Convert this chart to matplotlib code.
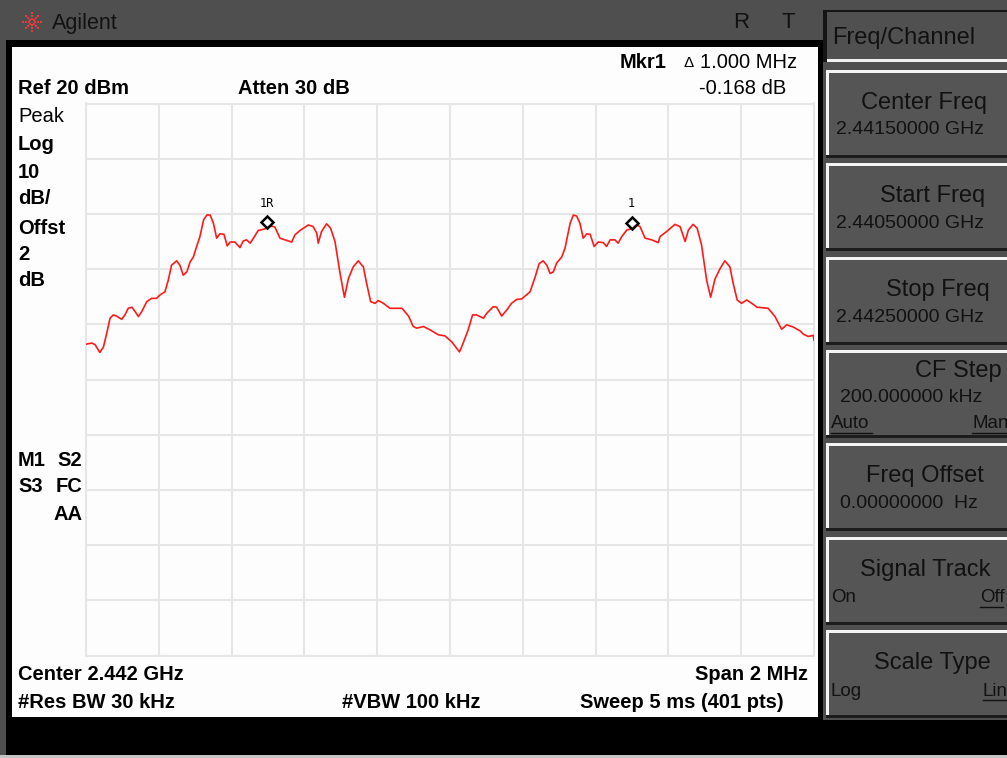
#!/usr/bin/env python3
# -*- coding: utf-8 -*-
"""
plot.py: spectrum analyser screen (Agilent), two 1 MHz spaced humps with delta marker.
"""

import numpy as np
import matplotlib
matplotlib.use('Agg')
import matplotlib.pyplot as plt
from matplotlib.patches import Rectangle
from matplotlib.transforms import ScaledTranslation

plt.rcParams['font.family'] = ['Liberation Sans', 'DejaVu Sans']

" trace read off the screen: offset from start freq (kHz) and level (dBm) "
offset_khz = [0, 16, 25, 38, 48, 57, 66, 75, 84, 98, 107, 116, 126, 135, 144, 153,
              167, 180, 194, 203, 217, 226, 235, 249, 258, 267, 277, 286, 295, 304,
              313, 323, 332, 341, 350, 359, 368, 379, 388, 396, 409, 423, 432, 441,
              451, 460, 473, 487, 496, 510, 519, 533, 547, 565, 574, 588, 597, 611,
              624, 634, 638, 647, 661, 672, 684, 698, 710, 721, 734, 748, 762, 771,
              782, 794, 803, 817, 835, 868, 886, 899, 909, 927, 945, 968, 986, 1005,
              1026, 1032, 1050, 1062, 1073, 1092, 1101, 1119, 1128, 1142, 1156, 1169,
              1183, 1197, 1206, 1220, 1234, 1245, 1256, 1266, 1275, 1284, 1293, 1307,
              1316, 1330, 1339, 1348, 1357, 1366, 1376, 1385, 1396, 1407, 1421, 1430,
              1440, 1453, 1462, 1472, 1486, 1499, 1513, 1522, 1536, 1554, 1572, 1577,
              1595, 1609, 1618, 1632, 1646, 1655, 1668, 1679, 1691, 1705, 1716, 1728,
              1742, 1755, 1769, 1778, 1789, 1801, 1815, 1829, 1843, 1874, 1893, 1911,
              1925, 1943, 1962, 1971, 1984, 1998, 2000]
level_dbm = [-23.6, -23.4, -23.7, -25.1, -24.1, -21.6, -18.9, -18.3, -18.5, -19.1,
             -18.3, -17.1, -16.9, -17.7, -18.6, -17.7, -15.9, -15.3, -15.3, -14.7,
             -14.1, -12.0, -9.3, -8.5, -9.3, -11.1, -10.5, -8.7, -7.8, -5.9, -4.1,
             -1.1, -0.2, -0.2, -1.7, -4.4, -3.6, -3.7, -5.8, -5.1, -5.1, -6.1, -4.9,
             -4.7, -5.3, -4.4, -3.0, -2.8, -2.6, -2.2, -2.4, -4.4, -4.7, -5.1, -3.8,
             -3.0, -2.6, -2.0, -2.3, -3.5, -5.3, -3.2, -1.8, -2.6, -5.0, -10.8,
             -15.1, -11.7, -9.6, -8.5, -9.6, -12.6, -15.9, -16.2, -15.7, -16.2,
             -17.1, -17.1, -18.5, -20.4, -20.7, -20.4, -21.0, -21.9, -22.1, -23.2,
             -25.0, -24.1, -21.0, -18.3, -18.3, -18.9, -18.0, -16.8, -16.9, -18.5,
             -17.4, -16.2, -15.5, -15.4, -14.9, -14.1, -11.4, -9.0, -8.5, -9.3,
             -10.8, -10.5, -8.9, -7.8, -6.2, -1.7, -0.2, -0.4, -1.7, -4.4, -3.6,
             -3.7, -5.9, -5.1, -5.2, -5.9, -4.7, -4.7, -5.3, -4.1, -2.9, -2.7, -2.0,
             -2.3, -4.4, -4.7, -5.2, -4.1, -3.2, -2.4, -1.9, -2.3, -5.0, -2.9, -1.9,
             -2.6, -5.6, -12.0, -15.1, -11.8, -9.9, -8.5, -9.6, -12.6, -15.6, -16.2,
             -15.6, -16.2, -16.9, -17.1, -18.6, -20.9, -20.1, -20.5, -21.2, -21.8,
             -22.2, -22.0, -22.9]

start_ghz = 2.4410
stop_ghz = 2.4430
ref_level = 20
db_per_div = 10

marker_khz = [496, 1499]
marker_dbm = [-2.6, -2.7]
marker_tags = ['1R', '1']

left_labels = ['Peak', 'Log', '10', 'dB/', 'Offst', '2', 'dB']
left_label_y = [116, 144, 172, 199, 229, 254, 280]

softkey_title = 'Freq/Channel'
softkey_names = ['Center Freq', 'Start Freq', 'Stop Freq', 'CF Step',
                 'Freq Offset', 'Signal Track', 'Scale Type']
softkey_values = ['2.44150000 GHz', '2.44050000 GHz', '2.44250000 GHz',
                  '200.000000 kHz', '0.00000000  Hz', '', '']
softkey_opts = [None, None, None, ('Auto', 'Man'), None, ('On', 'Off'), ('Log', 'Lin')]

W, H = 1007, 758
fig = plt.figure(figsize=(W / 100, H / 100), dpi=100, facecolor='#4f4f4f')

" background layer in screen pixels "
bg = fig.add_axes([0, 0, 1, 1])
bg.set_xlim(0, W)
bg.set_ylim(H, 0)
bg.axis('off')


def box(x0, y0, x1, y1, color, z=1):
    bg.add_patch(Rectangle((x0, y0), x1 - x0, y1 - y0, facecolor=color,
                           edgecolor='none', zorder=z))


def txt(x, y, s, size=14.5, bold=False, ha='left', color='black', **kw):
    bg.text(x, y, s, fontsize=size, fontweight='bold' if bold else 'normal',
            ha=ha, va='center', color=color, zorder=5, **kw)


def uline(x0, x1, y):
    bg.plot([x0, x1], [y, y], color='#111111', lw=1, zorder=5)


# display frame
box(6, 40, 823, 720, 'black')
box(12, 47, 818, 717, '#fdfdfd')
box(6, 720, W, 755, 'black')
box(0, 755, W, H, '#c4c4c4')

# title bar
ang = np.deg2rad(np.arange(0, 360, 45))
for r in [3, 6, 9]:
    bg.scatter(32 + r * np.cos(ang), 22 + r * np.sin(ang), s=2.5, marker='s',
               color='#e83a3a', linewidths=0, zorder=5)
txt(52, 23, 'Agilent', size=15.5, color='#111111')
txt(741, 22, 'R', size=16, color='#111111', ha='center')
txt(788, 22, 'T', size=16, color='#111111', ha='center')

# softkey panel
box(823, 10, W, 62, '#151515')
box(827, 12, W, 62, '#505050')
box(827, 59, W, 62, '#f0f0f0')
txt(832, 38, softkey_title, size=17, color='#111111')

key_top = [70, 163, 257, 350, 443, 537, 630]
key_centre = [924, 933, 938, 958, 925, 925, 932]
opt_span = {'Auto': (831, 872), 'Man': (972, W), 'Off': (980, 1003), 'Lin': (983, W)}
for i, name in enumerate(softkey_names):
    y0 = key_top[i]
    y1 = y0 + 88
    box(826, y0, W, y1, '#555555')
    box(826, y0, W, y0 + 2.5, '#f4f4f4', z=2)
    box(826, y0, 829, y1, '#f4f4f4', z=2)
    box(826, y1 - 3, W, y1, '#1c1c1c', z=2)
    ny = y0 + 21 if i == 3 else y0 + 33
    txt(key_centre[i], ny, name, size=17, ha='center', color='#111111')
    if softkey_values[i]:
        vy = y0 + 47 if i == 3 else y0 + 60
        txt(836 if i < 3 else 840, vy, softkey_values[i], size=14, color='#111111')
    if softkey_opts[i]:
        oy = y0 + 74 if i == 3 else y0 + 61
        for lab in softkey_opts[i]:
            if lab in opt_span:
                x0, x1 = opt_span[lab]
                txt(x0, oy, lab, size=13.5, color='#111111')
                uline(x0, x1, oy + 9)
            else:
                txt(831, oy, lab, size=13.5, color='#111111')

# annotations on the display
txt(18, 89, 'Ref %d dBm' % ref_level, bold=True)
txt(238, 89, 'Atten 30 dB', bold=True)
txt(620, 62, 'Mkr1', bold=True)
txt(683, 63, '\u0394', size=11)
txt(797, 62, '1.000 MHz', ha='right')
txt(786, 89, '-0.168 dB', ha='right')
for lab, y in zip(left_labels, left_label_y):
    txt(18, y, lab, bold=(lab != 'Peak'))
txt(18, 461, 'M1', bold=True)
txt(82, 461, 'S2', bold=True, ha='right')
txt(18, 487, 'S3', bold=True)
txt(82, 487, 'FC', bold=True, ha='right')
txt(82, 514, 'AA', bold=True, ha='right')
txt(18, 674, 'Center %.3f GHz' % ((start_ghz + stop_ghz) / 2), bold=True)
txt(808, 674, 'Span %d MHz' % round((stop_ghz - start_ghz) * 1000), bold=True, ha='right')
txt(18, 703, '#Res BW 30 kHz', bold=True)
txt(342, 703, '#VBW 100 kHz', bold=True)
txt(784, 703, 'Sweep 5 ms (401 pts)', bold=True, ha='right')

" graticule "
ax = fig.add_axes([86 / W, (H - 655.5) / H, 728 / W, 552 / H])
ax.set_facecolor('#fdfdfd')
ax.set_xlim(start_ghz, stop_ghz)
ax.set_ylim(ref_level - 10 * db_per_div, ref_level)
ax.set_xticks(np.linspace(start_ghz, stop_ghz, 11))
ax.set_yticks(np.arange(ref_level - 10 * db_per_div, ref_level + 1, db_per_div))
ax.grid(color='#e6e6e6', lw=1.5)
ax.tick_params(length=0, labelbottom=False, labelleft=False)
for sp in ax.spines.values():
    sp.set_color('#e6e6e6')
    sp.set_linewidth(1.5)

freq = start_ghz + np.array(offset_khz) / 1e6
ax.plot(freq, level_dbm, color='#ff1a1a', lw=1.2, zorder=3)

mfreq = start_ghz + np.array(marker_khz) / 1e6
lift = ax.transData + ScaledTranslation(0, 0.06, fig.dpi_scale_trans)
ax.plot(mfreq, marker_dbm, ls='none', marker='D', ms=6.5, mfc='none', mec='black',
        mew=1.8, transform=lift, zorder=4)
for f, l, tag in zip(mfreq, marker_dbm, marker_tags):
    ax.annotate(tag, (f, l), xytext=(0, 18), textcoords='offset points', ha='center',
                va='center', fontsize=8.5, family='DejaVu Sans Mono')

fig.savefig('out.png', dpi=100)
